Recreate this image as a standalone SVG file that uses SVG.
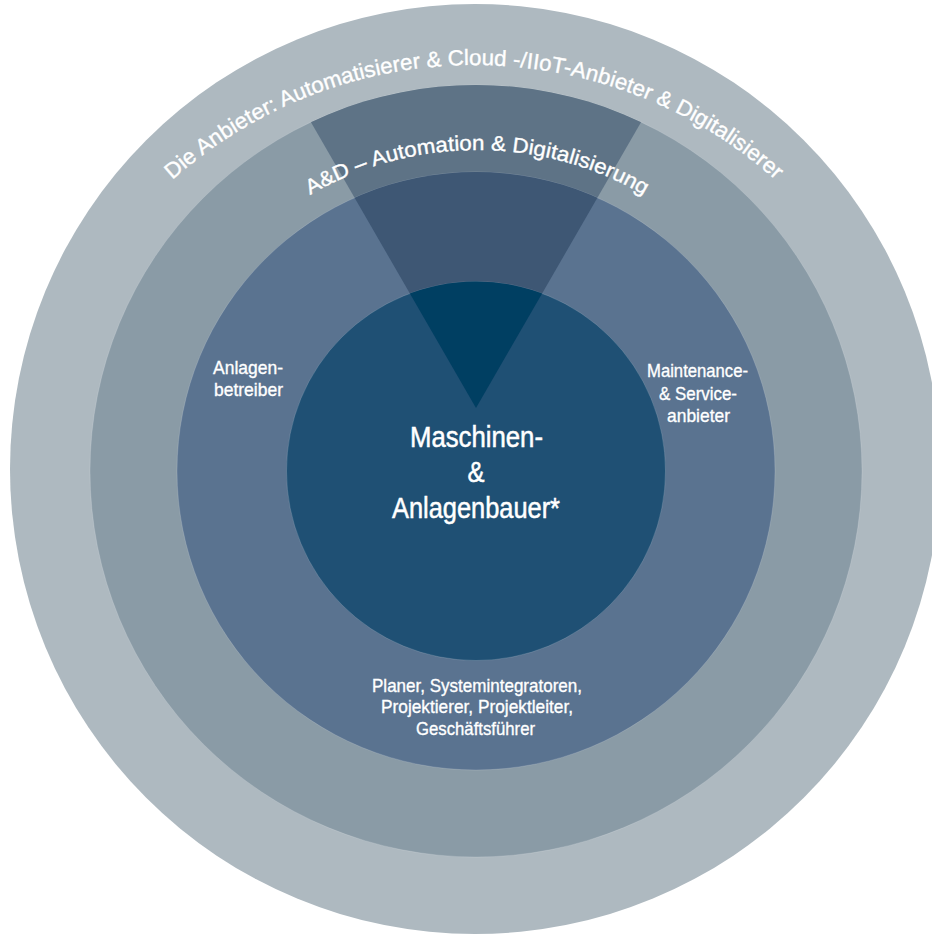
<svg xmlns="http://www.w3.org/2000/svg" width="932" height="934" viewBox="0 0 932 934">
  <style>
    .lbl { font-family: "Liberation Sans Narrow", "Liberation Sans", Arial, sans-serif; fill: #ffffff; stroke: #ffffff; stroke-width: 0.35; text-anchor: middle; }
    .sm { font-size: 19px; }
    .md { font-size: 29px; stroke-width: 0.5; }
    .arc { font-size: 22px; }
    .edge { stroke: #ffffff; stroke-opacity: 0.22; stroke-width: 0.7; }
  </style>
  <defs>
    <path id="wedge" d="M476,408 L240.4,0 L711.6,0 Z"/>
    <clipPath id="clipR2"><circle cx="476" cy="471" r="386"/></clipPath>
    <clipPath id="clipR3"><circle cx="476" cy="471" r="299"/></clipPath>
    <clipPath id="clipR4"><circle cx="476" cy="471" r="189.5"/></clipPath>
    <path id="arcOuter" d="M81.7,291.5 A453,453 0 0 1 866.3,291.5"/>
    <path id="arcAD" d="M189.5,316 A332,332 0 0 1 764.5,316"/>
  </defs>

  <g id="ring-anbieter">
    <circle cx="475" cy="469" r="465" fill="#aeb9c0"/>
  </g>
  <g id="ring-automation">
    <circle class="edge" cx="476" cy="471" r="386" fill="#8a9ba6"/>
    <use href="#wedge" clip-path="url(#clipR2)" fill="#5e7386"/>
  </g>
  <g id="ring-anwender">
    <circle class="edge" cx="476" cy="471" r="299" fill="#5a7390"/>
    <use href="#wedge" clip-path="url(#clipR3)" fill="#3e5774"/>
  </g>
  <g id="core">
    <circle class="edge" cx="476" cy="471" r="189.5" fill="#1f5074"/>
    <use href="#wedge" clip-path="url(#clipR4)" fill="#003f62"/>
  </g>

  <g id="label-anbieter">
    <text class="lbl arc"><textPath href="#arcOuter" startOffset="50%" textLength="660" lengthAdjust="spacingAndGlyphs">Die Anbieter: Automatisierer &amp; Cloud -/IIoT-Anbieter &amp; Digitalisierer</textPath></text>
  </g>
  <g id="label-ad">
    <text class="lbl arc" style="font-size:21px"><textPath href="#arcAD" startOffset="50%" textLength="350" lengthAdjust="spacingAndGlyphs">A&amp;D – Automation &amp; Digitalisierung</textPath></text>
  </g>
  <g id="label-anlagenbetreiber">
    <text class="lbl sm" x="248" y="374" textLength="70" lengthAdjust="spacingAndGlyphs">Anlagen-</text>
    <text class="lbl sm" x="248.5" y="396" textLength="69" lengthAdjust="spacingAndGlyphs">betreiber</text>
  </g>
  <g id="label-maintenance">
    <text class="lbl sm" x="697.5" y="377" textLength="101" lengthAdjust="spacingAndGlyphs">Maintenance-</text>
    <text class="lbl sm" x="698" y="400" textLength="78" lengthAdjust="spacingAndGlyphs">&amp; Service-</text>
    <text class="lbl sm" x="698.5" y="422" textLength="63" lengthAdjust="spacingAndGlyphs">anbieter</text>
  </g>
  <g id="label-core">
    <text class="lbl md" x="476.5" y="447" textLength="133" lengthAdjust="spacingAndGlyphs">Maschinen-</text>
    <text class="lbl md" x="476" y="482" textLength="17" lengthAdjust="spacingAndGlyphs">&amp;</text>
    <text class="lbl md" x="476" y="518" textLength="168" lengthAdjust="spacingAndGlyphs">Anlagenbauer*</text>
  </g>
  <g id="label-planer">
    <text class="lbl sm" x="477" y="692" textLength="210" lengthAdjust="spacingAndGlyphs">Planer, Systemintegratoren,</text>
    <text class="lbl sm" x="477" y="713" textLength="192" lengthAdjust="spacingAndGlyphs">Projektierer, Projektleiter,</text>
    <text class="lbl sm" x="475.5" y="735" textLength="119" lengthAdjust="spacingAndGlyphs">Geschäftsführer</text>
  </g>
  <g id="connectors"/>
</svg>
